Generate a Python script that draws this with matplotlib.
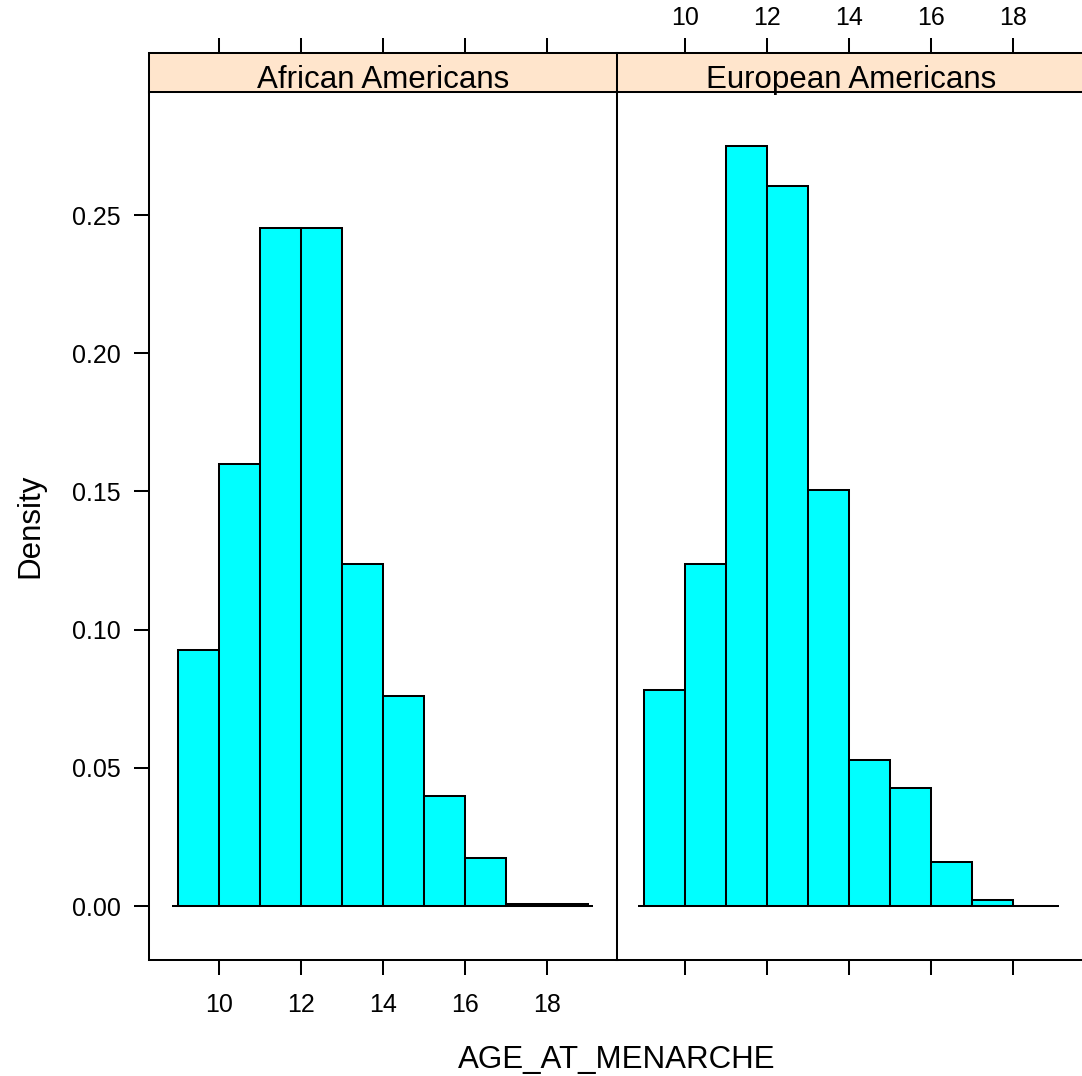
import matplotlib.pyplot as plt
import numpy as np

plt.rcParams['font.family'] = ['Liberation Sans', 'DejaVu Sans']

# histogram data (density per 1-year bin)
bin_edges = [9, 10, 11, 12, 13, 14, 15, 16, 17, 18, 19]
groups = ['African Americans', 'European Americans']
density_african = [0.0926, 0.160, 0.2453, 0.2453, 0.1237, 0.076, 0.0398, 0.0174, 0.0007, 0.0007]
density_european = [0.0781, 0.1237, 0.275, 0.2605, 0.1505, 0.0528, 0.0427, 0.0159, 0.0021, 0.0]
x_ticks = [10, 12, 14, 16, 18]
y_ticks = [0.00, 0.05, 0.10, 0.15, 0.20, 0.25]
y_tick_labels = ['0.00', '0.05', '0.10', '0.15', '0.20', '0.25']

W, H = 1082, 1076
LW = 1.45
TICKLEN = 10.5
YLIM = (-0.0195, 0.2945)


def box(x0, y0, x1, y1):
    return [x0 / W, 1 - y1 / H, (x1 - x0) / W, (y1 - y0) / H]


fig = plt.figure(figsize=(W / 100, H / 100), dpi=100)

# pixel extents of the two panels and their x limits
panels = [(149, 617), (617, 1085)]
xlims = [(8.293, 19.707), (8.34, 19.75)]
data = [density_african, density_european]

for i, (x0, x1) in enumerate(panels):
    ax = fig.add_axes(box(x0, 92, x1, 960))
    ax.bar(bin_edges[:-1], data[i], width=np.diff(bin_edges), align='edge',
           color='#00FFFF', edgecolor='black', linewidth=LW, zorder=2)
    ax.plot([bin_edges[0] - 0.15, bin_edges[-1] + 0.12], [0, 0],
            color='black', lw=LW, zorder=3, solid_capstyle='butt')
    ax.set_xlim(*xlims[i])
    ax.set_ylim(*YLIM)
    for sp in ax.spines.values():
        sp.set_linewidth(LW)
    ax.set_xticks(x_ticks)
    ax.tick_params(axis='x', direction='out', length=TICKLEN, width=LW,
                   labelsize=18, pad=13, labelbottom=(i == 0))
    if i == 0:
        ax.set_yticks(y_ticks)
        ax.set_yticklabels(y_tick_labels)
        ax.tick_params(axis='y', direction='out', length=TICKLEN, width=LW,
                       labelsize=18, pad=10)
    else:
        ax.set_yticks([])

    # strip on top
    st = fig.add_axes(box(x0, 53, x1, 92))
    st.set_facecolor('#FFE5CC')
    st.set_xlim(*xlims[i])
    st.set_ylim(0, 1)
    for sp in st.spines.values():
        sp.set_linewidth(LW)
    st.set_yticks([])
    st.set_xticks(x_ticks)
    st.xaxis.tick_top()
    st.tick_params(axis='x', direction='out', length=TICKLEN, width=LW,
                   labelsize=18, pad=6, labeltop=(i == 1), labelbottom=False)
    st.text(0.5, 0.1, groups[i], transform=st.transAxes, ha='center',
            va='baseline', fontsize=22.5)

fig.text(30 / W, 1 - 526 / H, 'Density', rotation=90, ha='center', va='center',
         fontsize=22.5)
fig.text(617 / W, 1 - 1068 / H, 'AGE_AT_MENARCHE', ha='center', va='baseline',
         fontsize=22.5)

fig.savefig('out.png', dpi=100)
